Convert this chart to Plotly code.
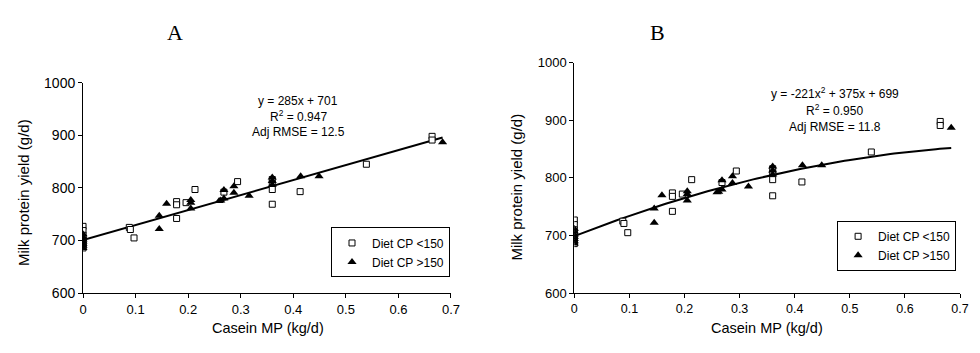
import numpy as np
import plotly.graph_objects as go

# ---- data ----
low_cp_x = [0, 0, 0, 0, 0, 0, 0, 0, 0.088, 0.09, 0.097, 0.178, 0.178, 0.178, 0.196, 0.213,
            0.268, 0.294, 0.36, 0.36, 0.36, 0.36, 0.413, 0.539, 0.664, 0.664]
low_cp_y = [727, 719, 710, 705, 700, 695, 690, 686, 725, 721, 705, 774, 768, 742, 772, 797,
            792, 812, 816, 808, 797, 769, 793, 845, 898, 891]

high_cp_x = [0, 0, 0, 0, 0, 0, 0, 0.145, 0.145, 0.159, 0.205, 0.205, 0.205, 0.259, 0.262,
             0.268, 0.268, 0.287, 0.287, 0.316, 0.36, 0.36, 0.36, 0.414, 0.449, 0.684]
high_cp_y = [712, 707, 702, 698, 694, 690, 686, 747, 722, 770, 777, 772, 761, 775, 776,
             796, 780, 803, 791, 785, 820, 813, 806, 822, 822, 887]

linear_coef = [285, 701]          # panel A: y = 285x + 701
quad_coef = [-221, 375, 699]      # panel B: y = -221x^2 + 375x + 699
fit_range = [0, 0.684]

x_ticks = [0, 0.1, 0.2, 0.3, 0.4, 0.5, 0.6, 0.7]
x_tick_labels = ["0", "0.1", "0.2", "0.3", "0.4", "0.5", "0.6", "0.7"]
y_ticks = [600, 700, 800, 900, 1000]

stats_a = ["y = 285x + 701", "R<sup>2</sup> = 0.947", "Adj RMSE = 12.5"]
stats_b = ["y = -221x<sup>2</sup> + 375x + 699", "R<sup>2</sup> = 0.950", "Adj RMSE = 11.8"]

# ---- figure ----
FONT = "Liberation Sans, Arial, sans-serif"
SERIF = "Liberation Serif, Times New Roman, serif"
PAGE_MARGIN = 8                      # default body margin of the html page
W, H = 980 - 2 * PAGE_MARGIN, 353 - 2 * PAGE_MARGIN

def px(x):
    return (x - PAGE_MARGIN) / W

def py(y):
    return 1 - (y - PAGE_MARGIN) / H

fig = go.Figure()

fit_x = np.linspace(fit_range[0], fit_range[1], 100)

panels = [
    ("x", "y", "legend", np.polyval(linear_coef, fit_x)),
    ("x2", "y2", "legend2", np.polyval(quad_coef, fit_x)),
]
for xa, ya, lg, fy in panels:
    fig.add_trace(go.Scatter(x=fit_x, y=fy, mode="lines", xaxis=xa, yaxis=ya,
                             line=dict(color="black", width=2), showlegend=False,
                             hoverinfo="skip"))
    fig.add_trace(go.Scatter(x=low_cp_x, y=low_cp_y, mode="markers", xaxis=xa, yaxis=ya,
                             name="Diet CP <150", legend=lg,
                             marker=dict(symbol="square", size=6, color="white",
                                         line=dict(color="black", width=1))))
    fig.add_trace(go.Scatter(x=high_cp_x, y=high_cp_y, mode="markers", xaxis=xa, yaxis=ya,
                             name="Diet CP >150", legend=lg,
                             marker=dict(symbol="triangle-up", size=8, color="black",
                                         line=dict(color="black", width=0))))

def axis_style(size):
    return dict(showline=True, linecolor="black", linewidth=1, ticks="outside",
                ticklen=4, tickcolor="black", showgrid=False, zeroline=False,
                tickfont=dict(family=FONT, size=size, color="black"), mirror=False)

legend_style = dict(xanchor="right", yanchor="top", bordercolor="black", borderwidth=1,
                    bgcolor="white", font=dict(family=FONT, size=12, color="black"),
                    itemwidth=30, tracegroupgap=0)

fig.update_layout(
    width=W, height=H,
    margin=dict(l=0, r=0, t=0, b=0),
    paper_bgcolor="white", plot_bgcolor="white",
    font=dict(family=FONT, color="black"),
    xaxis=dict(domain=[px(80), px(453)], range=[0, 0.7], tickvals=x_ticks,
               ticktext=x_tick_labels, anchor="y", **axis_style(13)),
    yaxis=dict(domain=[py(299), py(78)], range=[600, 1000], tickvals=y_ticks,
               anchor="x", **axis_style(14)),
    xaxis2=dict(domain=[px(578), px(969)], range=[0, 0.7], tickvals=x_ticks,
                ticktext=x_tick_labels, anchor="y2", **axis_style(12.5)),
    yaxis2=dict(domain=[py(299), py(57)], range=[600, 1000], tickvals=y_ticks,
                anchor="x2", **axis_style(13)),
    legend=dict(x=px(452), y=py(230), **legend_style),
    legend2=dict(x=px(965), y=py(223), **legend_style),
    showlegend=True,
)

ann = []
# panel titles
ann.append(dict(text="A", x=px(173), y=py(25), font=dict(family=SERIF, size=22)))
ann.append(dict(text="B", x=px(662), y=py(25), font=dict(family=SERIF, size=22)))
# axis titles
for xc in (267, 773):
    ann.append(dict(text="Casein MP (kg/d)", x=px(xc), y=py(336), font=dict(family=FONT, size=14.5)))
ann.append(dict(text="Milk protein yield (g/d)", x=px(19), y=py(193), textangle=-90,
                font=dict(family=FONT, size=15)))
ann.append(dict(text="Milk protein yield (g/d)", x=px(519), y=py(188), textangle=-90,
                font=dict(family=FONT, size=15)))
# regression statistics
for t, yy in zip(stats_a, (97, 113, 130)):
    ann.append(dict(text=t, x=px(298), y=py(yy), font=dict(family=FONT, size=12)))
for t, yy in zip(stats_b, (89, 107, 125)):
    ann.append(dict(text=t, x=px(842), y=py(yy), font=dict(family=FONT, size=12)))

for a in ann:
    a.update(xref="paper", yref="paper", showarrow=False, xanchor="center", yanchor="middle")
fig.update_layout(annotations=ann)

fig.write_html("out.html", config={"displayModeBar": False})
